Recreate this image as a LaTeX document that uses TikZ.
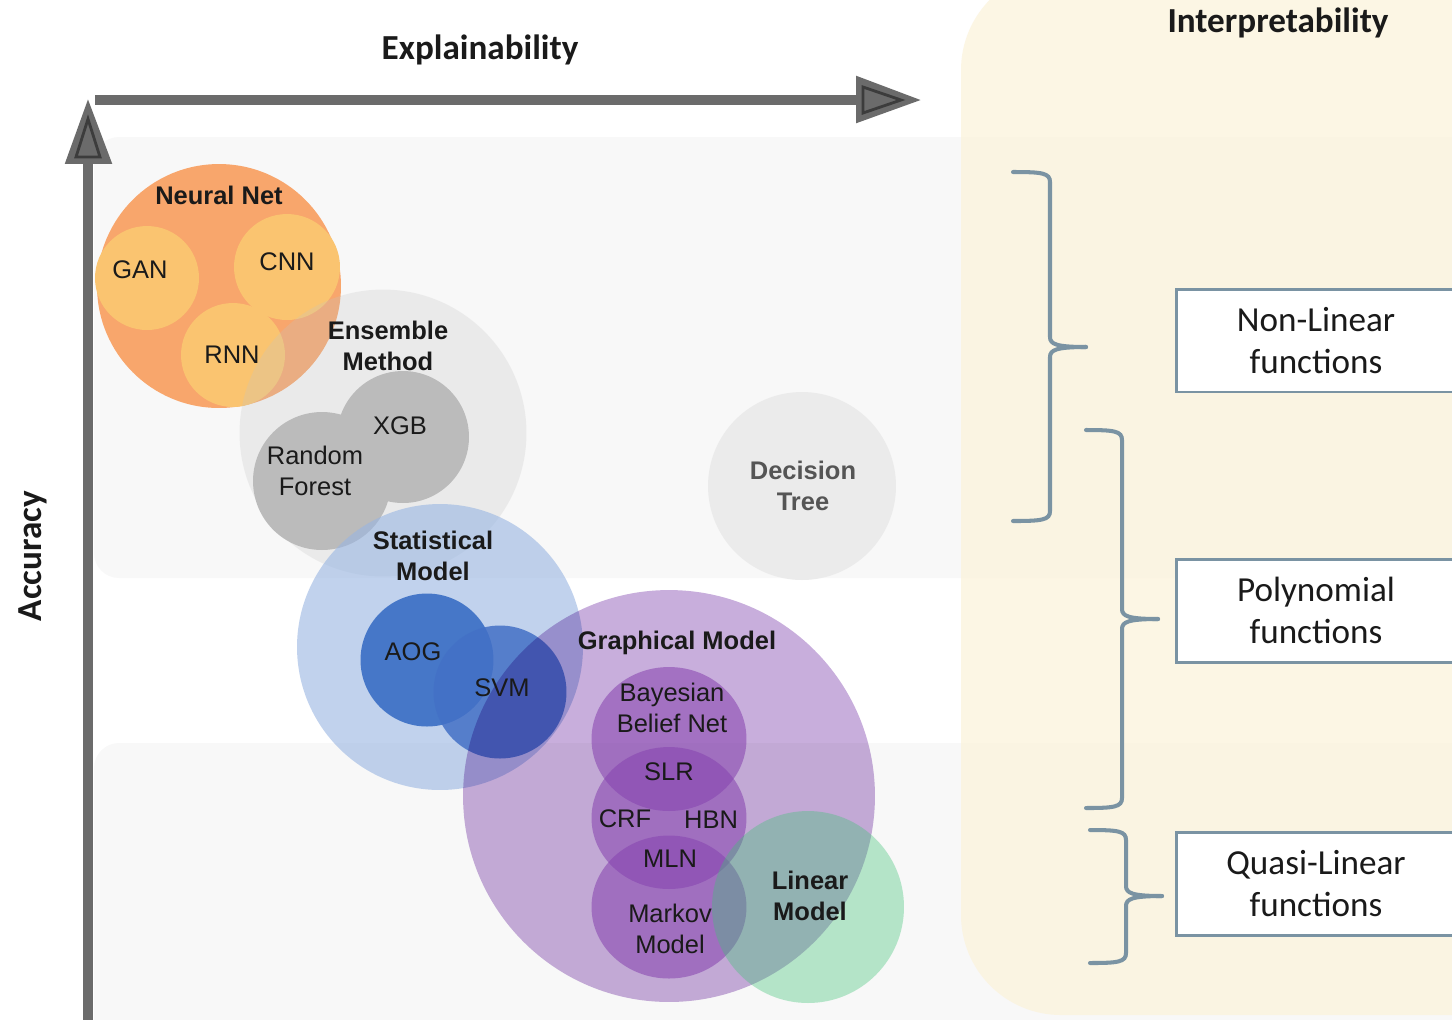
\documentclass[tikz,border=0pt]{standalone}
\usepackage{fontspec}
\setmainfont{Liberation Sans}
\newfontfamily\calf{Carlito}

\definecolor{panelY}{HTML}{FCF3DB}
\definecolor{axisG}{HTML}{6B6B6B}
\definecolor{axisD}{HTML}{3C3C3C}
\definecolor{nnOrange}{HTML}{F8A66C}
\definecolor{nnInner}{HTML}{FAC470}
\definecolor{ensGray}{HTML}{C4C4C4}
\definecolor{treeGray}{HTML}{BBBBBB}
\definecolor{statBlue}{HTML}{98B5E2}
\definecolor{aogBlue}{HTML}{4677C8}
\definecolor{svmBlue}{HTML}{4370C6}
\definecolor{graphPurple}{HTML}{C8AEDC}
\definecolor{innerPurple}{HTML}{8744B0}
\definecolor{linGreen}{HTML}{41C277}
\definecolor{dtGray}{HTML}{EBEBEB}
\definecolor{dtText}{HTML}{555555}
\definecolor{txt}{HTML}{1A1A1A}
\definecolor{steel}{HTML}{7A93A3}

% draws a right curly brace: left end x, stem x, tip x, top y, tip y, bottom y
\newcommand\mybrace[6]{%
  \draw[bracestyle] (#1,#4) .. controls ({#2-8},#4) and (#2,{#4+1}) .. (#2,{#4+10})
    -- (#2,{#5-10}) .. controls (#2,{#5-3}) and ({#2+6},#5) .. (#3,#5);
  \draw[bracestyle] (#3,#5) .. controls ({#2+6},#5) and (#2,{#5+3}) .. (#2,{#5+10})
    -- (#2,{#6-10}) .. controls (#2,{#6-1}) and ({#2-8},#6) .. (#1,#6);}

\begin{document}
\begin{tikzpicture}[x=0.02cm,y=-0.02cm,
  lbl/.style={font=\fontsize{14.5}{18}\selectfont, align=center, text=txt, inner sep=0pt},
  blbl/.style={font=\fontsize{14.5}{18}\selectfont\bfseries, align=center, text=txt, inner sep=0pt},
  ttl/.style={font=\calf\bfseries\fontsize{20}{24}\selectfont, text=txt, inner sep=0pt},
  fnbox/.style={draw=steel, line width=1.7pt, fill=white, minimum width=5.6cm,
    minimum height=2.06cm, align=center, inner sep=0pt,
    font=\calf\fontsize{20}{24}\selectfont, text=txt},
  bracestyle/.style={draw=steel, line width=2.3pt, line cap=round},
  band/.style={fill=black, fill opacity=0.028},
]
\useasboundingbox (0,0) rectangle (1452,1019);

% background, the two shaded bands and the interpretability panel
\begin{scope}
  \clip (0,0) rectangle (1452,1019);
  \fill[white] (0,0) rectangle (1452,1019);
  \fill[band, rounded corners=0.5cm] (94,137) rectangle (1700,578);
  \fill[band, rounded corners=0.5cm] (94,743) rectangle (1700,1100);
  \fill[panelY, fill opacity=0.75, rounded corners=2cm] (961,-30) rectangle (1700,1015);
\end{scope}

% neural networks
\fill[nnOrange] (219,286) circle[radius=2.44cm];
\fill[nnInner] (147,278) circle[radius=1.04cm];
\fill[nnInner] (287,267) circle[radius=1.06cm];
\fill[nnInner] (233,355) circle[radius=1.04cm];

% ensemble methods
\fill[ensGray, fill opacity=0.25] (383,433) circle[radius=2.87cm];
\fill[treeGray] (403,437) circle[radius=1.32cm];
\fill[treeGray] (322,481) circle[radius=1.38cm];

% statistical models
\fill[statBlue, fill opacity=0.6] (440,647) circle[radius=2.86cm];
\fill[aogBlue] (427,660) circle[radius=1.33cm];
\fill[svmBlue, fill opacity=0.85] (500,692) circle[radius=1.33cm];

% graphical models
\begin{scope}[blend mode=multiply]
  \fill[graphPurple] (669,796) circle[radius=4.12cm];
\end{scope}
\fill[innerPurple, fill opacity=0.57] (669,739) ellipse[x radius=1.55cm, y radius=1.44cm];
\fill[innerPurple, fill opacity=0.57] (669,818) ellipse[x radius=1.55cm, y radius=1.42cm];
\fill[innerPurple, fill opacity=0.57] (669,907) ellipse[x radius=1.55cm, y radius=1.43cm];

% linear model
\fill[linGreen, fill opacity=0.37] (808,907) circle[radius=1.92cm];

% decision tree
\fill[dtGray] (802,486) circle[radius=1.88cm];

% labels of the model families
\node[blbl] (nnL) at (219,195) {Neural Net};
\node[lbl] (ganL) at (140,270) {GAN};
\node[lbl] (cnnL) at (287,262) {CNN};
\node[lbl] (rnnL) at (232,355) {RNN};
\node[blbl] (ensL) at (388,346) {Ensemble\\Method};
\node[lbl] (xgbL) at (400,426) {XGB};
\node[lbl] (rfL) at (315,471) {Random\\Forest};
\node[blbl] (statL) at (433,556) {Statistical\\Model};
\node[lbl] (aogL) at (413,652) {AOG};
\node[lbl] (svmL) at (502,688) {SVM};
\node[blbl] (gmL) at (677,643) {Graphical Model};
\node[lbl] (bbnL) at (672,708) {Bayesian\\Belief Net};
\node[lbl] (slrL) at (669,772) {SLR};
\node[lbl] (crfL) at (625,819) {CRF};
\node[lbl] (hbnL) at (711,820) {HBN};
\node[lbl] (mlnL) at (670,859) {MLN};
\node[lbl] (mmL) at (670,929) {Markov\\Model};
\node[blbl] (lmL) at (810,896) {Linear\\Model};
\node[blbl, text=dtText] (dtL) at (803,486) {Decision\\Tree};

% axes
\draw[axisG, line width=0.19cm] (95,100) -- (860,100);
\filldraw[fill=axisG, draw=axisG, line width=1pt, line join=miter] (857,77) -- (918,100) -- (857,122) -- cycle;
\draw[axisD, line width=1.6pt, line join=miter] (863,87) -- (901,100) -- (863,113) -- cycle;
\draw[axisG, line width=0.19cm] (88,1030) -- (88,158);
\filldraw[fill=axisG, draw=axisG, line width=1pt, line join=miter] (66,163) -- (88,102) -- (111,163) -- cycle;
\draw[axisD, line width=1.6pt, line join=miter] (76,157) -- (88,119) -- (100,157) -- cycle;

\node[ttl] (xT) at (480,50) {Explainability};
\node[ttl] (iT) at (1278,23) {Interpretability};
\node[ttl, rotate=90] (yT) at (33,556) {Accuracy};

% function classes
\node[fnbox] (nlB) at (1316,340.5) {Non-Linear\\functions};
\node[fnbox] (plB) at (1316,610.5) {Polynomial\\functions};
\node[fnbox] (qlB) at (1316,883.5) {Quasi-Linear\\functions};

\mybrace{1013}{1050}{1086}{172}{347}{521}
\mybrace{1086}{1122}{1158}{430}{619}{808}
\mybrace{1090}{1126}{1162}{830}{896}{963}
\end{tikzpicture}
\end{document}
